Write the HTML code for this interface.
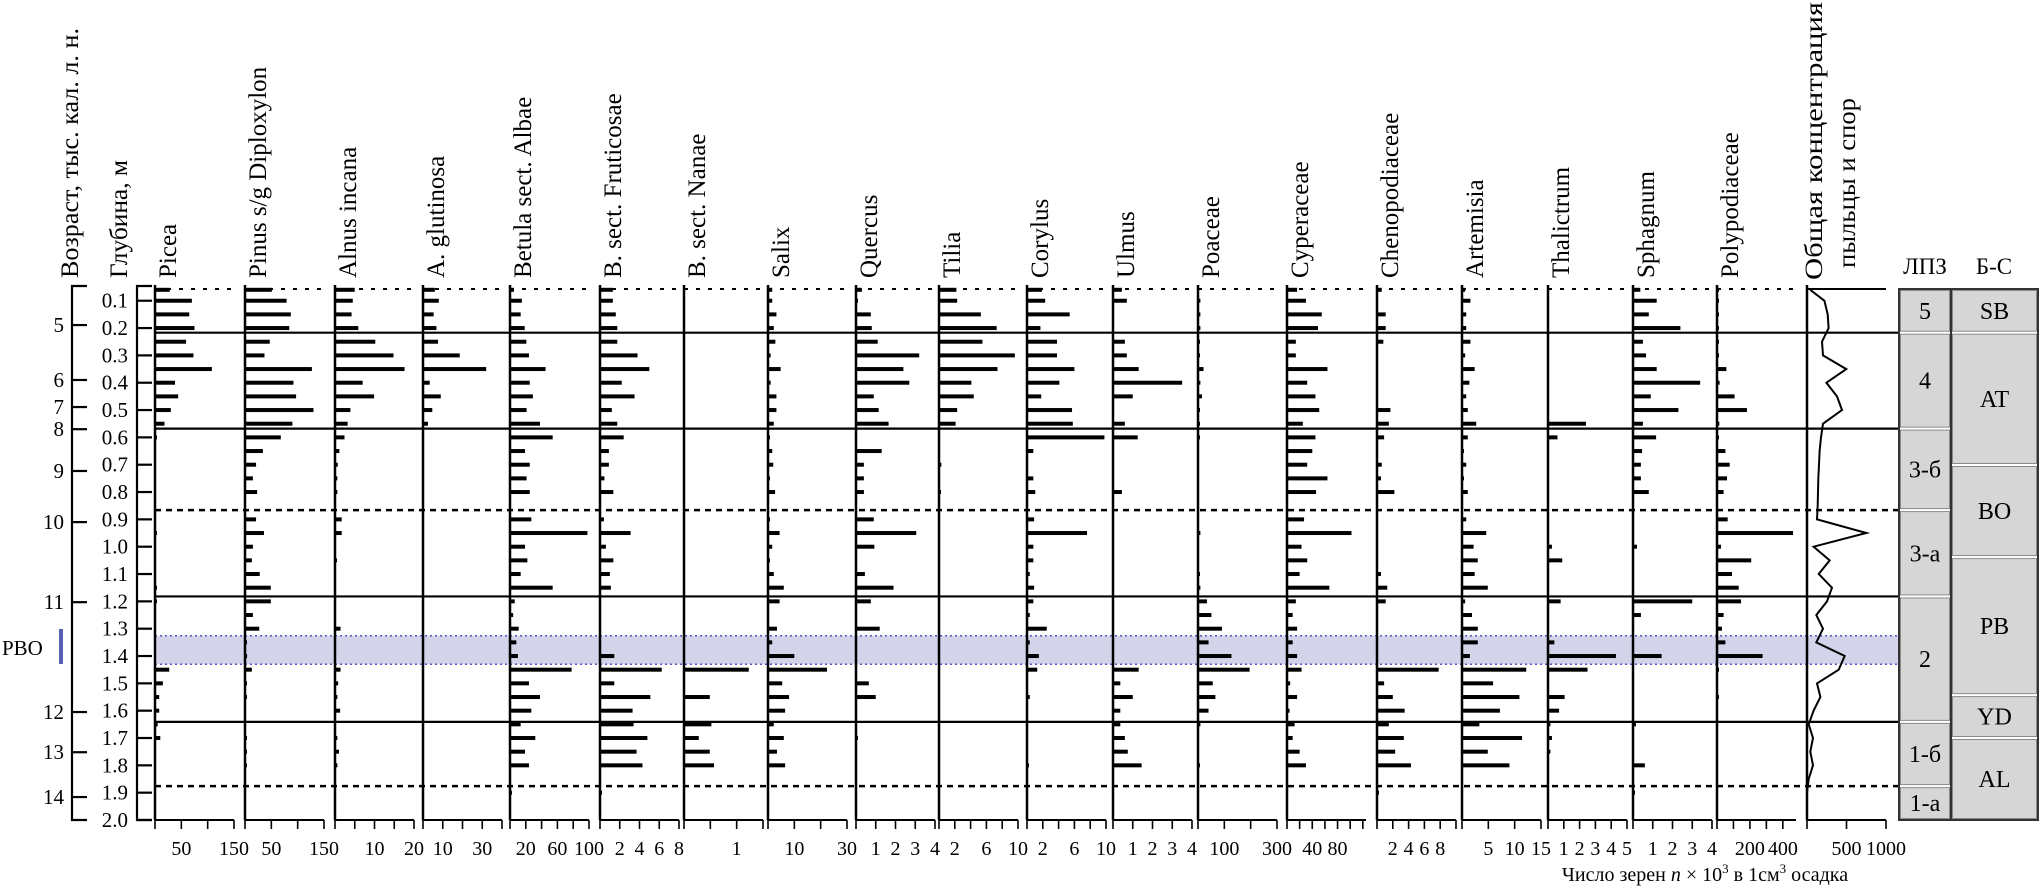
<!DOCTYPE html>
<html><head><meta charset="utf-8">
<style>
html,body{margin:0;padding:0;background:#fff;}
svg{display:block;font-family:"Liberation Serif","DejaVu Serif",serif;}
</style></head>
<body>
<svg id="chart" xmlns="http://www.w3.org/2000/svg" width="2040" height="889" viewBox="0 0 2040 889"></svg>
<script>
// ---- data ----
const depths=[0.06,0.1,0.15,0.2,0.25,0.3,0.35,0.4,0.45,0.5,0.55,0.6,0.65,0.7,0.75,0.8,0.85,0.9,0.95,1.0,1.05,1.1,1.15,1.2,1.25,1.3,1.35,1.4,1.45,1.5,1.55,1.6,1.65,1.7,1.75,1.8,1.85,1.9];
const picea=[28,70,65,75,59,73,108,38,44,30,18,2,0,0,0,0,0,0,2,0,0,0,2,2,0,0,0,0,27,15,8,8,5,10,0,0,0,0];
const pinus=[51,79,87,84,47,37,127,92,97,130,90,68,34,21,15,23,0,21,36,15,13,28,49,49,15,27,3,4,13,3,3,0,0,3,3,3,0,0];
const alnusIncana=[5,4.5,4.2,5.9,10.2,14.8,17.6,7,9.9,3.9,3.2,2.4,1.1,0.7,0.6,0.6,0,1.7,1.7,0,0.4,0,0,0,0,1.4,0,0,1.4,0.8,0.6,1.3,0,0.6,1,0.6,0,0];
const alnusGlutinosa=[6,8,5.4,6.8,7.6,18.6,32,3.4,9,4.7,2.5,0,0,0,0,0,0,0,0,0,0,0,0,0,0,0,0,0,0,0,0,0,0,0,0,0,0,0];
const betulaAlbae=[5,15,13.5,18.6,20.7,24,45,25,29,21,38,54,19,25,21,25,0,27,98,19,22,13.5,54,6,4,11,8,10,78,24,38,27,13.5,32,19,24,0,2];
const betulaFrut=[1.3,1.3,1.6,1.75,1.75,3.8,5,2.2,3.5,1.2,1.75,2.4,0.9,0.9,0.45,1.35,0,0.4,3.1,0.6,1.35,1,1.1,0,0,0,0,1.45,6.25,1.45,5.1,3.3,3.4,4.8,3.7,4.3,0,0.2];
const betulaNanae=[0,0,0,0,0,0,0,0,0,0,0,0,0,0,0,0,0,0,0,0,0,0,0,0,0,0,0,0,1.23,0,0.49,0,0.52,0.28,0.49,0.57,0,0];
const salix=[1.6,1.6,3.2,2.2,2.8,1,4.8,1,3.2,3.2,2.2,0.6,1.6,2,0.6,2.7,0,0.6,4.4,1.6,0.6,2.2,6,4.4,0,3.4,1.6,10,22.4,5.4,8,6.5,2.2,6,3.4,6.5,0,0];
const quercus=[0.3,0.1,0.75,0.8,1.1,3.2,2.4,2.7,0.9,1.15,1.65,0,1.3,0.4,0.4,0.4,0,0.9,3.05,0.93,0,0.45,1.9,0.75,0,1.2,0,0,0,0.65,1,0,0,0.1,0,0,0,0];
const tilia=[2.2,2.3,5.3,7.3,5.5,9.6,7.4,4.1,4.4,2.3,2.1,0,0,0.3,0,0.2,0,0,0,0,0,0,0,0,0,0,0,0,0,0,0,0,0,0,0,0,0,0];
const corylus=[1.9,2.3,5.4,1.7,3.8,3.8,6,4.1,1.8,5.7,5.8,9.8,0.8,0,0.8,1.05,0,0.9,7.6,0.8,0.8,0.35,0.9,0.8,0.35,2.5,0.35,1.5,1.3,0,0.35,0,0,0,0,0.2,0,0];
const ulmus=[0.45,0.7,0,0,0.6,0.7,1.3,3.5,1,0,0.6,1.25,0,0,0,0.45,0,0,0,0,0,0,0,0,0,0,0,0,1.3,0.37,1,0.37,0.37,0.6,0.75,1.45,0,0];
const poaceae=[0,9,9,9,6,3,21,9,15,6,4,4,0,0,0,0,0,0,9,0,0,6,9,34,51,91,40,127,196,56,66,40,9,0,0,6,0,0];
const cyperaceae=[16,30,55,49,14,14,64,32,45,51,25,45,40,32,64,46,0,27,102,23,32,20,67,14,9,16,9,16,23,5,16,4,12,9,20,30,0,0];
const chenopod=[0.6,0,1.1,1.1,0.8,0,0,0,0,1.7,1.5,0.9,0,0.6,0.5,2.2,0,0,0,0,0,0.5,1.3,1.1,0,0,0,0,7.8,0.9,2,3.5,1.5,3.4,2.3,4.3,0,0.2];
const artemisia=[0.6,1.6,0.8,0.8,1.6,0.6,2.4,1.4,0.8,1.1,2.7,1.1,0.3,0.8,0.2,1.1,0,0.8,4.6,2.2,3,2.4,4.9,0.6,1.9,3,3,1.5,12.2,5.9,10.9,7.2,3.3,11.4,4.9,9,0,0];
const thalictrum=[0,0,0,0,0,0,0,0,0,0,2.4,0.6,0,0,0,0,0,0,0,0.25,0.9,0,0,0.8,0,0,0.4,4.3,2.5,0,1.05,0.7,0.15,0.25,0.15,0,0,0];
const sphagnum=[0.37,1.2,0.8,2.4,0.5,0.66,1.2,3.4,0.9,2.3,0.5,1.17,0.46,0.4,0.4,0.8,0,0,0,0.2,0,0,0,3,0.4,0,0,1.45,0,0,0,0,0.15,0,0,0.6,0,0.05];
const polypod=[4,10,10,10,6,4,57,16,107,182,14,6,51,77,61,40,0,65,462,24,208,91,132,146,40,30,51,277,12,0,4,0,0,0,0,0,0,0];
const totalConc=[40,220,262,274,190,203,498,245,380,443,203,177,160,152,143,139,135,127,751,84,287,148,316,253,118,203,118,477,401,127,169,84,21,76,42,76,21,0];

const taxonNames=['Picea','Pinus s/g Diploxylon','Alnus incana','A. glutinosa','Betula sect. Albae','B. sect. Fruticosae','B. sect. Nanae','Salix','Quercus','Tilia','Corylus','Ulmus','Poaceae','Cyperaceae','Chenopodiaceae','Artemisia','Thalictrum','Sphagnum','Polypodiaceae'];
const seriesList=[picea,pinus,alnusIncana,alnusGlutinosa,betulaAlbae,betulaFrut,betulaNanae,salix,quercus,tilia,corylus,ulmus,poaceae,cyperaceae,chenopod,artemisia,thalictrum,sphagnum,polypod];
const maxVals=[150,150,20,40,100,8,1.5,30,4,10,10,4,300,125,10,15,5,4,480];
const tickVals=[[0,50,100,150],[0,50,100,150],[0,5,10,15,20],[0,10,20,30,40],[0,20,40,60,80,100],[0,2,4,6,8],[0,0.5,1,1.5],[0,10,20,30],[0,1,2,3,4],[0,2,4,6,8,10],[0,2,4,6,8,10],[0,1,2,3,4],[0,100,200,300],[0,20,40,60,80,100,120],[0,2,4,6,8,10],[0,5,10,15],[0,1,2,3,4,5],[0,1,2,3,4],[0,100,200,300,400]];
const tickLabels=[[50,150],[50,150],[10,20],[10,30],[20,60,100],[2,4,6,8],[1],[10,30],[1,2,3,4],[2,6,10],[2,6,10],[1,2,3,4],[100,300],[40,80],[2,4,6,8],[5,10,15],[1,2,3,4,5],[1,2,3,4],[200,400]];
const totalMax=1000;
const totalTicks=[0,500,1000];
const totalLabels=[500,1000];

const depthTicks=[0.1,0.2,0.3,0.4,0.5,0.6,0.7,0.8,0.9,1.0,1.1,1.2,1.3,1.4,1.5,1.6,1.7,1.8,1.9,2.0];
const ageLabels=[5,6,7,8,9,10,11,12,13,14];
const ageDepths=[0.189,0.39,0.489,0.57,0.723,0.91,1.203,1.605,1.752,1.916];
const zoneSolid=[0.217,0.568,1.182,1.641];
const zoneDashed=[0.866,1.876];
const pboBand=[1.326,1.43];
const lpzNames=['5','4','3-б','3-а','2','1-б','1-а'];
const lpzBounds=[0.057,0.217,0.568,0.866,1.182,1.641,1.876,2.0];
const bsNames=['SB','AT','BO','PB','YD','AL'];
const bsBounds=[0.057,0.217,0.701,1.038,1.543,1.70,2.0];

// ---- layout ----
const axisX=[155,245,335,423,510,600,684,768,856,939,1027,1113,1198,1287,1377,1462,1548,1633,1717];
const totalX=1807, colW=79, TOP=289, BOT=820;
const NS='http://www.w3.org/2000/svg';
const svg=document.getElementById('chart');
function yOf(d){return BOT-(2.0-d)*273.3;}
function mk(tag,attrs,parent){const e=document.createElementNS(NS,tag);for(const k in attrs)e.setAttribute(k,attrs[k]);(parent||svg).appendChild(e);return e;}
function txt(str,attrs,parent){const e=mk('text',attrs,parent);e.textContent=str;return e;}

// band
const band=mk('rect',{x:155,y:yOf(pboBand[0]),width:1899-155,height:yOf(pboBand[1])-yOf(pboBand[0]),fill:'#d3d3ea'});


for(const d of pboBand){
  const l=mk('line',{x1:155,x2:1899,y1:yOf(d),y2:yOf(d),stroke:'#5555cc','stroke-width':1.5,'stroke-dasharray':'2,3'});
  
  
}

// zone lines
for(const d of zoneSolid){
  const l=mk('line',{x1:155,x2:1899,y1:yOf(d),y2:yOf(d),stroke:'#000','stroke-width':2.2});
  
  
}
for(const d of zoneDashed){
  const l=mk('line',{x1:155,x2:1899,y1:yOf(d),y2:yOf(d),stroke:'#000','stroke-width':2.5,'stroke-dasharray':'6,5'});
  
  
}

// left axes
const ageAx=mk('path',{d:`M87 ${TOP-3} H72 V${BOT} H87`,fill:'none',stroke:'#000','stroke-width':2.2});


ageLabels.forEach((a,i)=>{
  const yy=yOf(ageDepths[i]);
  mk('line',{x1:72,x2:87,y1:yy,y2:yy,stroke:'#000','stroke-width':2.2});
  const t=txt(String(a),{x:64,y:yy+7,'font-size':21,'text-anchor':'end'});
  
  
});
const depAx=mk('path',{d:`M152 ${TOP-3} H137 V${BOT} H152`,fill:'none',stroke:'#000','stroke-width':2.2});


depthTicks.forEach(d=>{
  const yy=yOf(d);
  mk('line',{x1:137,x2:152,y1:yy,y2:yy,stroke:'#000','stroke-width':2.2});
  const t=txt(d.toFixed(1),{x:128,y:yy+7,'font-size':21,'text-anchor':'end'});
  
  
});
const pbo=txt('PBO',{x:2,y:655,'font-size':21});


const pbom=mk('rect',{x:59,y:629,width:4,height:35,fill:'#5560b0'});



function vlabel(str,x,y,size,name,len){
  const a={x:x,y:y,'font-size':size,transform:`rotate(-90 ${x} ${y})`};
  if(len){a.textLength=len;a.lengthAdjust='spacingAndGlyphs';}
  const t=txt(str,a);
  
  
  return t;
}
vlabel('Возраст, тыс. кал. л. н.',78,278,25,'age-axis-title',250);
vlabel('Глубина, м',127,278,25,'depth-axis-title',118);

// columns
taxonNames.forEach((name,ci)=>{
  const x0=axisX[ci], mx=maxVals[ci], vals=seriesList[ci];
  const sx=v=>x0+v/mx*colW;
  const g=mk('g',{});
  
  
  mk('line',{x1:x0,x2:x0+colW,y1:TOP,y2:TOP,stroke:'#000','stroke-width':2,'stroke-dasharray':'4,8'},g);
  const ax=mk('line',{x1:x0,x2:x0,y1:TOP-4,y2:BOT,stroke:'#000','stroke-width':2.5},g);
  
  
  mk('line',{x1:x0,x2:x0+colW,y1:BOT,y2:BOT,stroke:'#000','stroke-width':2},g);
  tickVals[ci].forEach(t=>{mk('line',{x1:sx(t),x2:sx(t),y1:BOT,y2:BOT+9,stroke:'#000','stroke-width':1.6},g);});
  tickLabels[ci].forEach(t=>{
    const tl=txt(String(t),{x:sx(t),y:855,'font-size':20,'text-anchor':'middle'},g);
    
    
  });
  vals.forEach((v,i)=>{
    if(v<=0) return;
    const w=Math.max(sx(v)-x0,2);
    const b=mk('rect',{x:x0,y:yOf(depths[i])-2,width:w,height:4,fill:'#000'},g);
    
    
  });
  vlabel(name,x0+21,278,25,'taxon-label');
});

// total concentration
const tsx=v=>totalX+v/totalMax*colW;
mk('line',{x1:totalX,x2:totalX+colW,y1:TOP,y2:TOP,stroke:'#000','stroke-width':2});
const tax=mk('line',{x1:totalX,x2:totalX,y1:TOP-4,y2:BOT,stroke:'#000','stroke-width':2.5});


mk('line',{x1:totalX,x2:totalX+colW,y1:BOT,y2:BOT,stroke:'#000','stroke-width':2});
totalTicks.forEach(t=>mk('line',{x1:tsx(t),x2:tsx(t),y1:BOT,y2:BOT+9,stroke:'#000','stroke-width':1.6}));
totalLabels.forEach(t=>{
  const tl=txt(String(t),{x:tsx(t),y:855,'font-size':20,'text-anchor':'middle'});
  
  
});
const tline=mk('polyline',{points:totalConc.map((v,i)=>tsx(v).toFixed(1)+','+yOf(depths[i]).toFixed(1)).join(' '),fill:'none',stroke:'#000','stroke-width':2});


vlabel('Общая концентрация',1822,280,25,'total-title-line1',278);
vlabel('пыльцы и спор',1855,268,25,'total-title-line2',170);

// zone boxes
function boxes(names,bounds,x,w,nm){
  names.forEach((n,i)=>{
    const y1=yOf(bounds[i]), y2=yOf(bounds[i+1]);
    const r=mk('rect',{x:x+1.5,y:y1+1.5,width:w-3,height:y2-y1-3,fill:'#d6d6d6',stroke:'#8a8a8a','stroke-width':1});
    
    
    const t=txt(n,{x:x+w/2,y:(y1+y2)/2+8,'font-size':24,'text-anchor':'middle'});
    
    
  });
}
boxes(lpzNames,lpzBounds,1899,52,'lpz');
boxes(bsNames,bsBounds,1951,87,'blytt-sernander');
const fr=mk('rect',{x:1899,y:TOP,width:139,height:BOT-TOP,fill:'none',stroke:'#333','stroke-width':2});


mk('line',{x1:1951,x2:1951,y1:TOP,y2:BOT,stroke:'#333','stroke-width':2});
const h1=txt('ЛПЗ',{x:1925,y:274,'font-size':23,'text-anchor':'middle'});


const h2=txt('Б-С',{x:1994,y:274,'font-size':23,'text-anchor':'middle'});



// bottom title
const bt=mk('text',{x:1705,y:881,'font-size':20,'text-anchor':'middle'});


bt.innerHTML='Число зерен <tspan font-style="italic">n</tspan> × 10<tspan dy="-8" font-size="13">3</tspan><tspan dy="8"> в 1см</tspan><tspan dy="-8" font-size="13">3</tspan><tspan dy="8"> осадка</tspan>';
</script>
</body></html>
